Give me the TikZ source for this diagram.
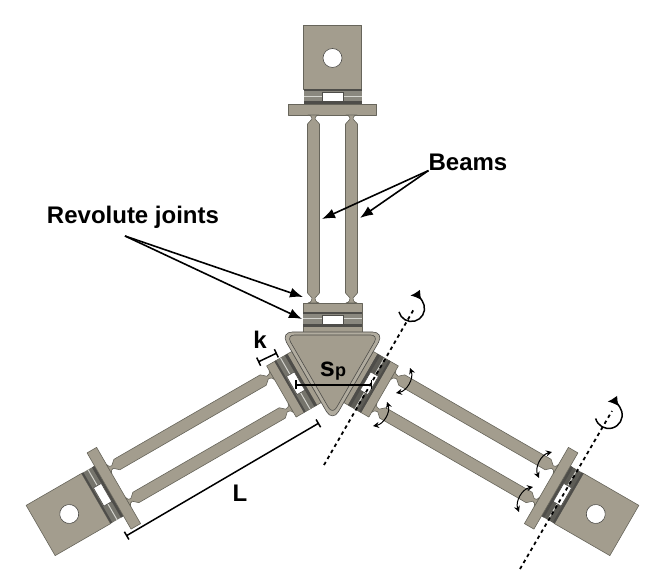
\documentclass[tikz,border=0pt]{standalone}
\usepackage{fontspec}
\setmainfont{Liberation Sans}
\usetikzlibrary{arrows.meta}
\definecolor{body}{HTML}{A39D8E}
\definecolor{edge}{HTML}{67655B}
\definecolor{band}{HTML}{8A887F}
\definecolor{dark}{HTML}{4E4D49}
\definecolor{lite}{HTML}{D4D4CE}
\begin{document}
\begin{tikzpicture}[
    x=1pt, y=1pt,
    part/.style={
        draw=edge, fill=body, line width=.6pt, line join=round
    },
    slot/.style={
        draw=dark, fill=white, line width=.6pt
    },
    lbl/.style={
        inner sep=0pt, font=\bfseries\fontsize{24}{24}\selectfont
    },
    pointer/.style={
        -{Latex[length=13pt,width=10pt]}, line width=1.6pt, black
    },
    dimline/.style={
        {Bar[width=9pt,line width=1.5pt]}-{Bar[width=9pt,line width=1.5pt]}, line width=1.5pt, black
    },
    axisline/.style={
        line width=1.8pt, black, dash pattern=on 3.5pt off 3.5pt
    },
    spin/.style={
        -{Latex[length=10pt,width=10pt]}, line width=1.5pt, black
    },
    flex/.style={
        {Stealth[length=6pt,width=6pt]}-{Stealth[length=6pt,width=6pt]}, line width=1pt, black
    },
]
    \useasboundingbox (0,0) rectangle (665,581);

    % the three legs
    \foreach \ang/\tone in {0/band,120/band!85!black,240/dark!75!band}{
    \begin{scope}[shift={(332.5,219)}, rotate=\ang]
        % plate with hole
        \draw[part] (-29,273) rectangle (29,337);
        \draw[slot] (0,304) circle (9.5);
        % hinge at the plate
        \fill[\tone] (-29,258) rectangle (29,273);
        \fill[dark] (-29,271) rectangle (29,273);
        \fill[dark] (-29,258) rectangle (29,261);
        \fill[lite] (-29,265) rectangle (29,266);
        \draw[slot] (-10.5,261) rectangle (10.5,270);
        \draw[part] (-44,247) rectangle (44,258);
        % beams
        \foreach \bx in {-19,19}{
            \draw[part, shift={(\bx,0)}] (-5.5,247) .. controls (-2,246) and (-1.5,245) .. (-1.5,243)
                -- (-6,238) -- (-6,69) -- (-1.5,64)
                .. controls (-1.5,62) and (-2,60) .. (-5.5,59) -- (5.5,59)
                .. controls (2,60) and (1.5,62) .. (1.5,64) -- (6,69) -- (6,238) -- (1.5,243)
                .. controls (1.5,245) and (2,246) .. (5.5,247) -- cycle;
        }
        % block at the triangle
        \draw[part] (-29.5,30) rectangle (29.5,59);
        \fill[\tone] (-29.5,35) rectangle (29.5,50);
        \fill[dark] (-29.5,48) rectangle (29.5,50);
        \fill[dark] (-29.5,35) rectangle (29.5,38);
        \fill[lite] (-29.5,42.5) rectangle (29.5,43.5);
        \draw[slot] (-10.5,38) rectangle (10.5,47);
    \end{scope}
    }

    % centre triangle
    \begin{scope}[shift={(332.5,219)}]
        \draw[part, draw=dark, fill=body!85!white, rounded corners=12pt] (-52,30) -- (52,30) -- (0,-60) -- cycle;
        \draw[part, draw=dark, rounded corners=8pt] (-46,27) -- (46,27) -- (0,-52.5) -- cycle;
    \end{scope}

    % rotation axes
    \coordinate (axis1a) at (324,116);
    \coordinate (axis1b) at (414,272);
    \coordinate (axis2a) at (520,12);
    \coordinate (axis2b) at (612,170);
    \draw[axisline] (axis1a) -- (axis1b);
    \draw[axisline] (axis2a) -- (axis2b);
    \draw[spin] (411.5,272.5) ++(195:13) arc[start angle=195, end angle=455, radius=13];
    \draw[spin] (608.7,166) ++(195:13.5) arc[start angle=195, end angle=455, radius=13.5];

    % flexure rotations
    \coordinate (fa1) at (410,213);
    \coordinate (fa2) at (396,188);
    \coordinate (fb1) at (387,179);
    \coordinate (fb2) at (373,155);
    \coordinate (fc1) at (552,129);
    \coordinate (fc2) at (539,103);
    \coordinate (fd1) at (533,94);
    \coordinate (fd2) at (519,69);
    \draw[flex] (fa1) to[bend left=50] (fa2);
    \draw[flex] (fb1) to[bend left=50] (fb2);
    \draw[flex] (fc1) to[bend right=50] (fc2);
    \draw[flex] (fd1) to[bend right=50] (fd2);

    % labels
    \node[lbl](beams) at (468,419) {Beams};
    \node[lbl](rev) at (133,364) {Revolute joints};
    \node[lbl](klbl) at (260,241) {k};
    \node[lbl](llbl) at (240,88) {L};
    \node[lbl](splbl) at (333,210) {\fontsize{27}{27}\selectfont s\fontsize{18}{18}\selectfont p};

    \coordinate (beam1) at (322,362);
    \coordinate (beam2) at (360,363);
    \coordinate (revfoot) at (125,345);
    \coordinate (joint1) at (303,284);
    \coordinate (joint2) at (302,262);
    \draw[pointer] (beams.south west) -- (beam1);
    \draw[pointer] (beams.south west) -- (beam2);
    \draw[pointer] (revfoot) -- (joint1);
    \draw[pointer] (revfoot) -- (joint2);

    % dimensions
    \coordinate (k1) at (258,219);
    \coordinate (k2) at (277,228);
    \coordinate (l1) at (126,45);
    \coordinate (l2) at (319,158);
    \coordinate (s1) at (295,196);
    \coordinate (s2) at (372,196);
    \draw[dimline] (k1) -- (k2);
    \draw[dimline] (l1) -- (l2);
    \draw[dimline] (s1) -- (s2);
\end{tikzpicture}
\end{document}
